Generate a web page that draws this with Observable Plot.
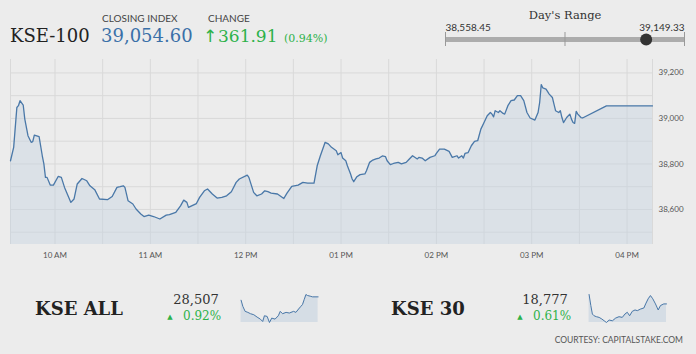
<!DOCTYPE html>
<html><head><meta charset="utf-8">
<script src="https://cdn.jsdelivr.net/npm/d3@7"></script>
<script src="https://cdn.jsdelivr.net/npm/@observablehq/plot@0.6"></script>
<style>
html,body{margin:0;padding:0;background:#ececec;width:696px;height:354px;overflow:hidden;}
#wrap{position:relative;width:696px;height:354px;}
#wrap > svg, #wrap > figure{position:absolute;margin:0;}
</style></head><body><div id="wrap"></div>
<script>
// ---------- data ----------
const indexName = "KSE-100";
const closingIndex = 39054.60;
const changePts = 361.91;
const changePct = 0.94;
const dayLow = 38558.45;
const dayHigh = 39149.33;

const kse100Times = [
"09:32","09:34","09:36","09:37","09:38","09:40","09:41","09:43","09:45","09:46",
"09:47","09:50","09:52","09:53","09:54","09:55","09:57","09:59","10:02","10:04",
"10:06","10:10","10:12","10:14","10:17","10:20","10:22","10:25","10:28","10:33",
"10:36","10:39","10:41","10:43","10:44","10:46","10:49","10:51","10:54","10:56",
"10:59","11:02","11:06","11:10","11:12","11:16","11:19","11:21","11:23","11:24",
"11:26","11:29","11:31","11:34","11:36","11:39","11:42","11:45","11:48","11:51",
"11:54","11:56","12:01","12:02","12:04","12:05","12:07","12:10","12:12","12:14",
"12:16","12:20","12:24","12:26","12:29","12:33","12:36","12:39","12:43","12:45",
"12:47","12:50","12:52","12:54","12:57","12:58","13:00","13:01","13:03","13:04",
"13:06","13:07","13:08","13:10","13:12","13:15","13:16","13:18","13:20","13:22",
"13:24","13:26","13:28","13:29","13:31","13:33","13:36","13:38","13:41","13:43",
"13:45","13:48","13:49","13:51","13:53","13:56","13:59","14:00","14:02","14:05",
"14:08","14:10","14:13","14:14","14:16","14:17","14:18","14:20","14:22","14:24",
"14:26","14:28","14:30","14:32","14:34","14:35","14:36","14:37","14:39","14:40",
"14:42","14:43","14:45","14:47","14:49","14:51","14:53","14:55","14:57","14:59",
"15:02","15:04","15:05","15:06","15:07","15:09","15:11","15:13","15:14","15:15",
"15:17","15:18","15:19","15:20","15:22","15:24","15:25","15:26","15:27","15:28",
"15:29","15:31","15:32","15:47","16:16"];
const kse100Values = [
38814,38873,39048,39056,39078,39059,38997,38924,38895,38898,
38927,38920,38836,38800,38741,38741,38707,38707,38745,38741,
38697,38631,38646,38712,38736,38726,38704,38687,38646,38643,
38657,38697,38700,38704,38697,38638,38624,38602,38580,38569,
38575,38569,38558,38575,38577,38587,38616,38641,38631,38609,
38616,38626,38653,38682,38690,38668,38650,38653,38660,38678,
38719,38734,38751,38741,38697,38675,38660,38668,38682,38678,
38672,38668,38648,38672,38701,38707,38719,38716,38716,38792,
38836,38895,38888,38873,38858,38840,38850,38826,38814,38792,
38756,38734,38722,38744,38753,38756,38770,38807,38817,38822,
38826,38835,38832,38814,38797,38802,38807,38800,38807,38822,
38836,38822,38829,38826,38814,38829,38836,38846,38865,38865,
38855,38829,38836,38826,38836,38826,38846,38850,38880,38899,
38902,38953,38982,39012,39026,39019,39007,39034,39026,39034,
39022,39019,39056,39078,39081,39100,39100,39078,39026,39002,
38993,39026,39070,39149,39134,39129,39107,39092,39063,39034,
39026,39034,39004,38982,39004,39019,38997,38982,38978,39031,
39019,39004,39002,39055,39055];

const xDomainTimes = ["09:32","16:16"];
const xGridTimes = ["10:00","10:30","11:00","11:30","12:00","12:30","13:00","13:30","14:00","14:30","15:00","15:30","16:00"];
const xTickTimes = ["10:00","11:00","12:00","13:00","14:00","15:00","16:00"];
const xTickLabels = ["10 AM","11 AM","12 PM","01 PM","02 PM","03 PM","04 PM"];
const yDomain = [38446, 39259];
const yGridValues = [38500,38600,38700,38800,38900,39000,39100,39200];
const yTickValues = [38600,38800,39000,39200];

const subNames = ["KSE ALL","KSE 30"];
const subCloses = [28507, 18777];
const subPcts = [0.92, 0.61];
const kseAllTimes = ["09:35","09:44","09:56","10:10","10:24","10:41","10:58","11:15","11:27","11:36",
"11:50","12:02","12:14","12:31","12:48","12:58","13:10","13:28","13:45","14:07",
"14:19","14:33","14:45","14:53","15:02","15:11","15:19","15:33","15:45","16:14"];
const kseAllValues = [28482,28410,28350,28338,28322,28310,28282,28258,28230,28298,
28290,28218,28270,28258,28298,28350,28322,28338,28330,28350,
28338,28378,28410,28430,28490,28550,28538,28530,28522,28522];
const kse30Times = ["09:35","09:44","09:52","10:01","10:13","10:27","10:41","10:53","11:05","11:19",
"11:36","11:53","12:10","12:27","12:41","12:53","13:05","13:19","13:33","13:45",
"14:02","14:19","14:28","14:41","14:53","15:05","15:19","15:33","15:45","16:02","16:16"];
const kse30Values = [18800,18718,18655,18642,18635,18630,18618,18605,18592,18610,
18605,18625,18635,18630,18655,18668,18642,18675,18685,18680,
18692,18700,18730,18768,18792,18768,18730,18685,18718,18730,18730];
const courtesy = "COURTESY: CAPITALSTAKE.COM";

// ---------- helpers ----------
const parseT = d3.utcParse("%H:%M");
const wrap = document.getElementById("wrap");
const lineColor = "#4a78a8";
const green = "#2db24a";
function place(el, left, top, z) {
  el.style.left = left + "px"; el.style.top = top + "px"; el.style.zIndex = z || 1;
  wrap.appendChild(el);
}

// ---------- main chart ----------
const kse100 = kse100Times.map((t, i) => ({time: parseT(t), value: kse100Values[i]}));
const xDom = xDomainTimes.map(parseT);
const main = Plot.plot({
  width: 696, height: 215,
  marginLeft: 10, marginRight: 44, marginTop: 9, marginBottom: 21,
  style: {background: "transparent", fontFamily: "Lato", fontSize: "8px", color: "#555"},
  x: {type: "utc", domain: xDom},
  y: {domain: yDomain},
  marks: [
    Plot.gridY(yGridValues, {stroke: "#d9d9d9", strokeOpacity: 1}),
    Plot.gridX(xGridTimes.map(parseT), {stroke: "#d9d9d9", strokeOpacity: 1}),
    Plot.ruleX(xDom, {stroke: "#d9d9d9"}),
    Plot.areaY(kse100, {x: "time", y1: yDomain[0], y2: "value", fill: "#c3d1e0", fillOpacity: 0.4}),
    Plot.lineY(kse100, {x: "time", y: "value", stroke: lineColor, strokeWidth: 1.3}),
    Plot.axisX(xTickTimes.map(parseT), {tickSize: 0, tickPadding: 8, tickFormat: (d, i) => xTickLabels[i], label: null}),
    Plot.axisY(yTickValues, {anchor: "right", tickSize: 0, tickPadding: 6, tickFormat: d3.format(","), label: null})
  ]
});
place(main, 0, 50);

// ---------- day's range ----------
const range = Plot.plot({
  width: 696, height: 50, margin: 0,
  style: {background: "transparent", overflow: "visible"},
  x: {domain: [dayLow, dayHigh], range: [445, 684], axis: null},
  y: {domain: [0, 50], range: [0, 50], axis: null},
  marks: [
    Plot.ruleY([39], {x1: dayLow, x2: dayHigh, stroke: "#acacac", strokeWidth: 5}),
    Plot.ruleX([dayLow, (dayLow + dayHigh) / 2, dayHigh], {y1: 32, y2: 46, stroke: "#999", strokeWidth: 1}),
    Plot.dot([closingIndex], {x: d => d, y: 39, r: 6, fill: "#333"}),
    Plot.text([dayLow], {x: d => d, y: 27, text: d => d3.format(",.2f")(d), textAnchor: "start", fontFamily: "Lato", fontSize: 10, fill: "#333"}),
    Plot.text([dayHigh], {x: d => d, y: 27, text: d => d3.format(",.2f")(d), textAnchor: "end", fontFamily: "Lato", fontSize: 10, fill: "#333"}),
    Plot.text([(dayLow + dayHigh) / 2], {x: d => d, y: 15, text: () => "Day's Range", fontFamily: "DejaVu Serif", fontSize: 11.5, fill: "#333"})
  ]
});
place(range, 0, 0);

// ---------- sparklines ----------
function spark(times, values, left) {
  const data = times.map((t, i) => ({time: parseT(t), value: values[i]}));
  const ext = d3.extent(values);
  const p = Plot.plot({
    width: 80, height: 30, margin: 1,
    style: {background: "transparent"},
    x: {type: "utc", domain: xDom, axis: null},
    y: {domain: ext, axis: null},
    marks: [
      Plot.areaY(data, {x: "time", y1: ext[0], y2: "value", fill: "#c3d1e0", fillOpacity: 0.55}),
      Plot.lineY(data, {x: "time", y: "value", stroke: lineColor, strokeWidth: 1})
    ]
  });
  place(p, left, 293);
}
spark(kseAllTimes, kseAllValues, 239);
spark(kse30Times, kse30Values, 587);

// ---------- text overlay ----------
const svg = d3.create("svg").attr("width", 696).attr("height", 354).style("overflow", "visible");
function txt(x, y, s, o) {
  const t = svg.append("text").attr("x", x).attr("y", y).text(s)
    .attr("font-family", o.font || "DejaVu Serif").attr("font-size", o.size)
    .attr("fill", o.fill || "#222").attr("text-anchor", o.anchor || "start");
  if (o.weight) t.attr("font-weight", o.weight);
  return t;
}
txt(10, 42, indexName, {size: 18, fill: "#222"});
txt(102, 22, "CLOSING INDEX", {font: "Lato", size: 10, fill: "#444"});
txt(101, 42, d3.format(",.2f")(closingIndex), {size: 18, fill: "#3a70a8"});
txt(208, 22, "CHANGE", {font: "Lato", size: 10, fill: "#444"});
txt(203, 42, "↑", {font: "DejaVu Sans", size: 17, fill: green});
txt(218, 42, d3.format(".2f")(changePts), {size: 17, fill: green});
txt(284, 42, "(" + changePct.toFixed(2) + "%)", {size: 11, fill: green});

const subX = [{name: 35, close: 196, tri: 170, pct: 183}, {name: 391, close: 545, tri: 520, pct: 533}];
subNames.forEach((n, i) => {
  const p = subX[i];
  txt(p.name, 315, n, {size: 18, weight: "bold", fill: "#222"});
  txt(p.close, 304, d3.format(",")(subCloses[i]), {size: 13, fill: "#333", anchor: "middle"});
  txt(p.tri, 319, "▲", {font: "DejaVu Sans", size: 7, fill: green, anchor: "middle"});
  txt(p.pct, 320, subPcts[i].toFixed(2) + "%", {size: 12, fill: green});
});
txt(683, 343, courtesy, {font: "Lato", size: 8.5, fill: "#555", anchor: "end"});
place(svg.node(), 0, 0, 5);
</script>
</body></html>
